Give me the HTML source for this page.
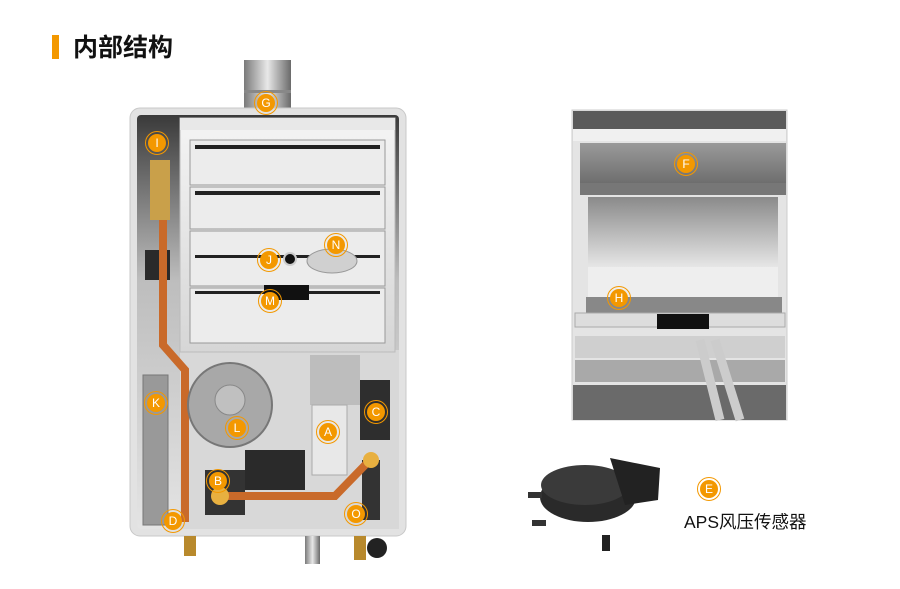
<!DOCTYPE html>
<html><head><meta charset="utf-8"><style>
html,body{margin:0;padding:0;background:#fff;width:900px;height:589px;overflow:hidden}
svg{display:block}
.t{font-family:"Liberation Sans","Noto Sans CJK SC",sans-serif}
</style></head><body>
<svg width="900" height="589" viewBox="0 0 900 589" xmlns="http://www.w3.org/2000/svg">
<defs>
<linearGradient id="pipe" x1="0" x2="1"><stop offset="0" stop-color="#7a7a7a"/><stop offset=".5" stop-color="#e8e8e8"/><stop offset="1" stop-color="#6a6a6a"/></linearGradient>
<linearGradient id="panel" x1="0" y1="0" x2="0" y2="1"><stop offset="0" stop-color="#f4f4f4"/><stop offset="1" stop-color="#d6d6d6"/></linearGradient>
<linearGradient id="fin" x1="0" y1="0" x2="0" y2="1"><stop offset="0" stop-color="#9a9a9a"/><stop offset="1" stop-color="#6e6e6e"/></linearGradient>
<linearGradient id="chamber" x1="0" y1="0" x2="0" y2="1"><stop offset="0" stop-color="#8a8a8a"/><stop offset="1" stop-color="#e6e6e6"/></linearGradient>
<linearGradient id="leftbg" x1="0" y1="0" x2="0" y2="1"><stop offset="0" stop-color="#3a3a3a"/><stop offset=".4" stop-color="#bdbdbd"/><stop offset="1" stop-color="#e4e4e4"/></linearGradient>
<g id="badge"><circle r="11.5" fill="none" stroke="#f39800" stroke-width="1"/><circle r="9" fill="#f39800"/></g>
</defs>

<rect x="52" y="35" width="7" height="24" fill="#f39800"/>
<text x="73" y="56" class="t" font-size="25" font-weight="bold" fill="#111">内部结构</text>

<!-- flue pipe -->
<rect x="244" y="60" width="47" height="52" fill="url(#pipe)"/>
<rect x="244" y="90" width="47" height="3" fill="#888"/>
<!-- casing -->
<rect x="130" y="108" width="276" height="428" rx="10" fill="#e2e2e2" stroke="#c8c8c8"/>
<rect x="137" y="115" width="262" height="414" rx="4" fill="url(#leftbg)"/>
<rect x="180" y="350" width="219" height="179" fill="#d8d8d8"/>
<!-- exchanger box -->
<rect x="180" y="118" width="215" height="234" fill="url(#panel)" stroke="#bbb"/>
<rect x="180" y="118" width="215" height="12" fill="#e8e8e8"/>
<g fill="#ececec" stroke="#999" stroke-width="1">
<rect x="190" y="140" width="195" height="45"/>
<rect x="190" y="187" width="195" height="42"/>
<rect x="190" y="231" width="195" height="55"/>
<rect x="190" y="288" width="195" height="55"/>
</g>
<g fill="#222"><rect x="195" y="145" width="185" height="4"/><rect x="195" y="191" width="185" height="4"/><rect x="195" y="255" width="185" height="3"/><rect x="195" y="291" width="185" height="3"/></g>
<rect x="264" y="285" width="45" height="15" fill="#111"/>
<circle cx="290" cy="259" r="6" fill="#111" stroke="#ccc" stroke-width="2"/>
<ellipse cx="332" cy="261" rx="25" ry="12" fill="#d0d0d0" stroke="#999"/>
<!-- left pipes -->
<rect x="150" y="160" width="20" height="60" fill="#c9a04a"/>
<rect x="145" y="250" width="25" height="30" fill="#2a2a2a"/>
<path d="M163 220 V345 L185 370 V522" fill="none" stroke="#c96a2a" stroke-width="8"/>
<!-- K panel -->
<rect x="143" y="375" width="25" height="150" fill="#999" stroke="#777"/>
<!-- fan -->
<circle cx="230" cy="405" r="42" fill="#a8a8a8" stroke="#777" stroke-width="2"/>
<circle cx="230" cy="400" r="15" fill="#c0c0c0" stroke="#888"/>
<!-- valve block -->
<rect x="245" y="450" width="60" height="40" fill="#2a2a2a"/>
<rect x="205" y="470" width="40" height="45" fill="#333"/>
<rect x="310" y="355" width="50" height="50" fill="#bdbdbd"/>
<rect x="312" y="405" width="35" height="70" fill="#e8e8e8" stroke="#aaa"/>
<rect x="360" y="380" width="30" height="60" fill="#2e2e2e"/>
<rect x="362" y="460" width="18" height="60" fill="#333"/>
<path d="M218 496 H335 L370 460" fill="none" stroke="#c96a2a" stroke-width="8"/>
<circle cx="371" cy="460" r="8" fill="#e8b040"/>
<circle cx="220" cy="496" r="9" fill="#e8b040"/>
<!-- bottom fittings -->
<rect x="184" y="536" width="12" height="20" fill="#b8892c"/>
<rect x="305" y="536" width="15" height="28" fill="url(#pipe)"/>
<rect x="354" y="536" width="12" height="24" fill="#b8892c"/>
<circle cx="377" cy="548" r="10" fill="#222"/>

<!-- right panel -->
<rect x="572" y="110" width="215" height="310" fill="#e4e4e4" stroke="#ccc"/>
<rect x="573" y="111" width="213" height="18" fill="#5a5a5a"/>
<rect x="573" y="129" width="213" height="12" fill="#f0f0f0"/>
<rect x="580" y="143" width="206" height="40" fill="url(#fin)"/>
<rect x="580" y="183" width="206" height="12" fill="#777"/>
<rect x="588" y="197" width="190" height="70" fill="url(#chamber)"/>
<rect x="588" y="267" width="190" height="30" fill="#eee"/>
<g fill="#888"><rect x="586" y="297" width="196" height="16"/></g>
<rect x="575" y="313" width="210" height="14" fill="#ddd" stroke="#aaa"/>
<rect x="657" y="314" width="52" height="15" fill="#111"/>
<rect x="575" y="336" width="210" height="22" fill="#cfcfcf"/>
<rect x="575" y="360" width="210" height="22" fill="#a9a9a9"/>
<rect x="573" y="385" width="213" height="35" fill="#6a6a6a"/>
<path d="M700 340 L720 420 M715 340 L740 420" stroke="#ccc" stroke-width="9"/>

<!-- APS sensor -->
<ellipse cx="588" cy="497" rx="48" ry="25" fill="#2a2a2a"/>
<ellipse cx="585" cy="485" rx="44" ry="20" fill="#3a3a3a"/>
<path d="M610 458 L660 468 L658 500 L625 505 Z" fill="#222"/>
<rect x="528" y="492" width="14" height="6" fill="#333"/>
<rect x="532" y="520" width="14" height="6" fill="#333"/>
<rect x="602" y="535" width="8" height="16" fill="#222"/>
<text x="684" y="528" class="t" font-size="17.5" fill="#111">APS风压传感器</text>

<!-- badges -->
<g class="t" font-size="12" fill="#fff" text-anchor="middle">
<g transform="translate(266,103)"><use href="#badge"/><text y="4">G</text></g>
<g transform="translate(157,143)"><use href="#badge"/><text y="4">I</text></g>
<g transform="translate(269,260)"><use href="#badge"/><text y="4">J</text></g>
<g transform="translate(336,245)"><use href="#badge"/><text y="4">N</text></g>
<g transform="translate(270,301)"><use href="#badge"/><text y="4">M</text></g>
<g transform="translate(156,403)"><use href="#badge"/><text y="4">K</text></g>
<g transform="translate(237,428)"><use href="#badge"/><text y="4">L</text></g>
<g transform="translate(328,432)"><use href="#badge"/><text y="4">A</text></g>
<g transform="translate(376,412)"><use href="#badge"/><text y="4">C</text></g>
<g transform="translate(218,481)"><use href="#badge"/><text y="4">B</text></g>
<g transform="translate(173,521)"><use href="#badge"/><text y="4">D</text></g>
<g transform="translate(356,514)"><use href="#badge"/><text y="4">O</text></g>
<g transform="translate(686,164)"><use href="#badge"/><text y="4">F</text></g>
<g transform="translate(619,298)"><use href="#badge"/><text y="4">H</text></g>
<g transform="translate(709,489)"><use href="#badge"/><text y="4">E</text></g>
</g>
</svg>
</body></html>
